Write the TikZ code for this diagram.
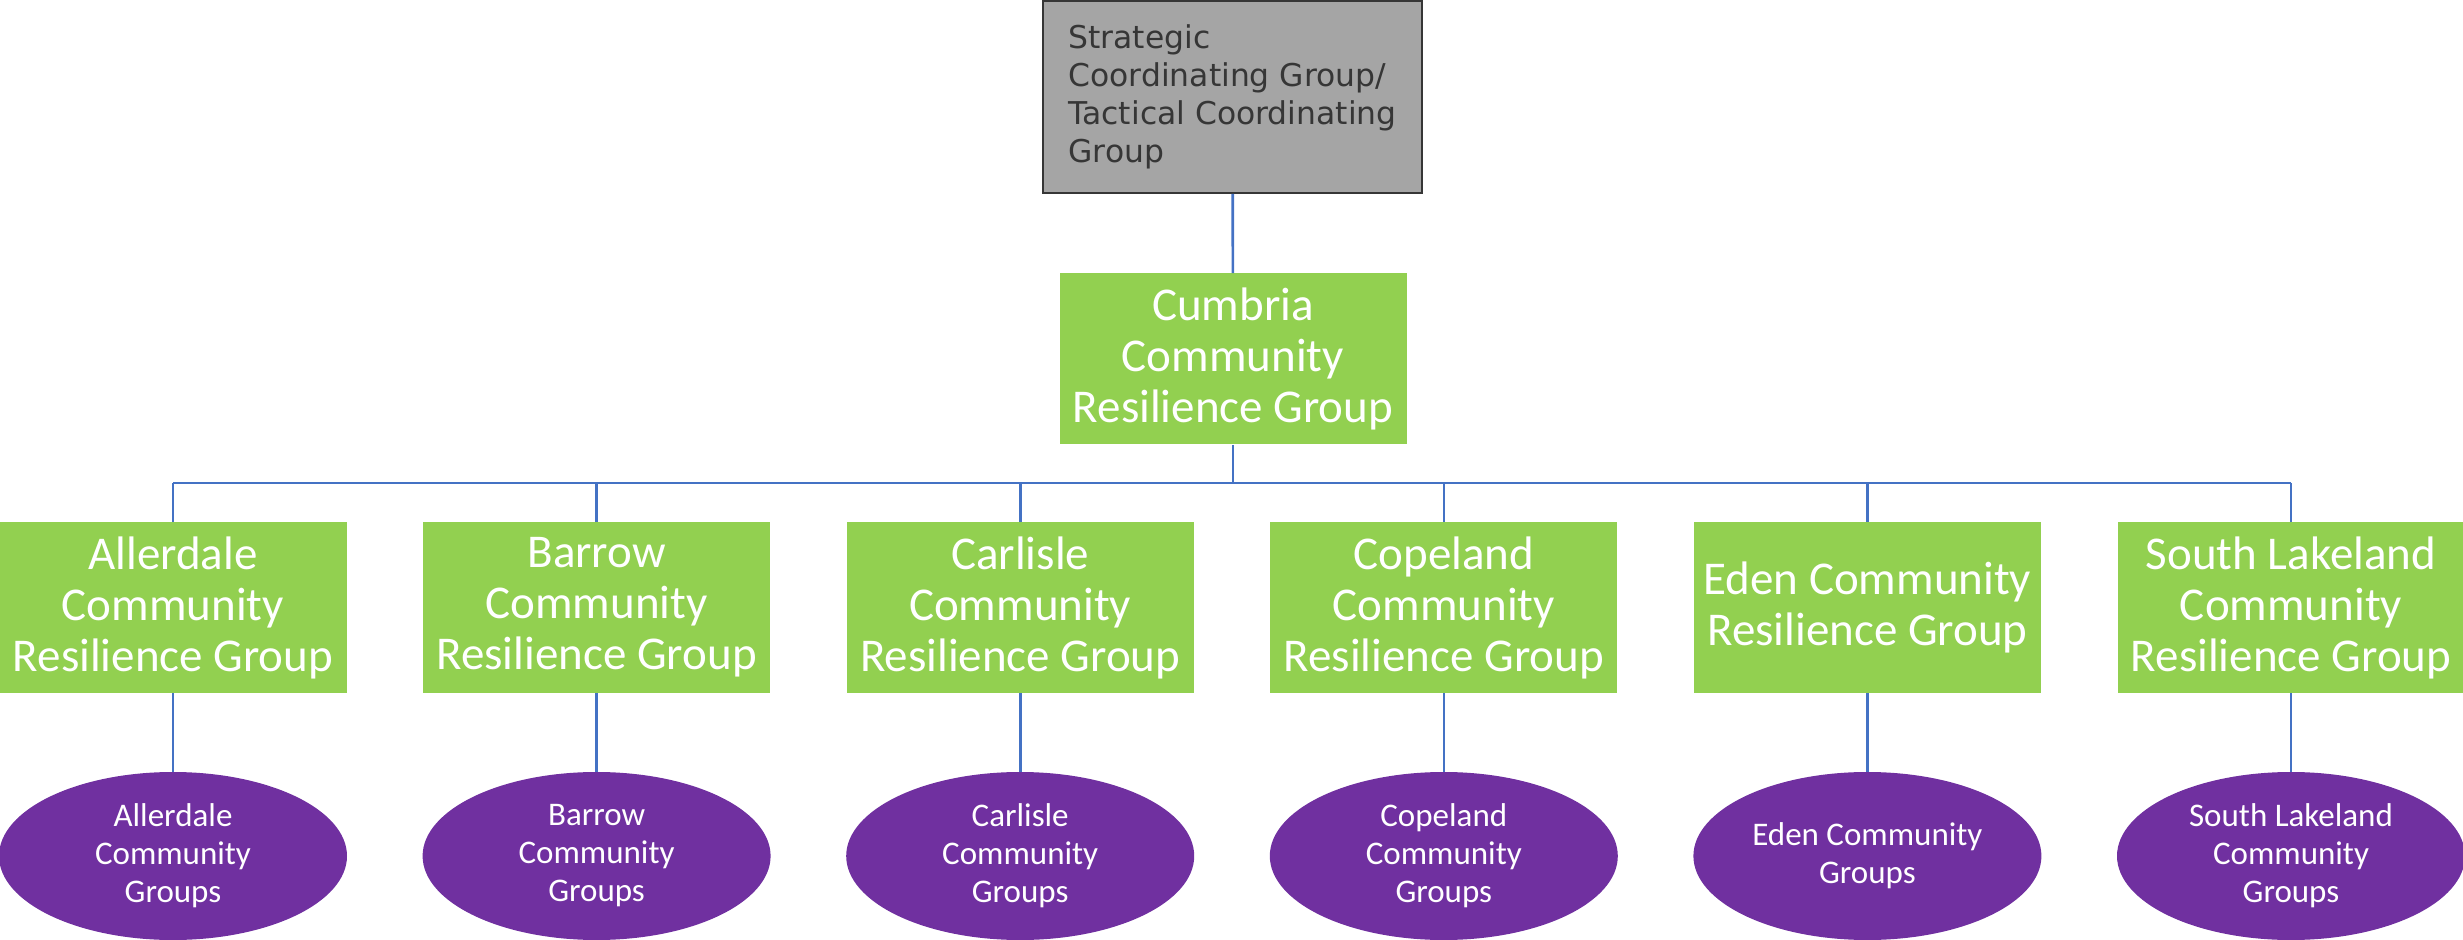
\documentclass[tikz,border=0pt]{standalone}
\usepackage{fontspec}
\setmainfont{Carlito}
\newfontfamily\sgfont{DejaVu Sans}
\usetikzlibrary{shapes.geometric}

\definecolor{crgreen}{HTML}{92D050}
\definecolor{cgpurple}{HTML}{7030A0}
\definecolor{linkblue}{HTML}{4472C4}
\definecolor{boxgrey}{HTML}{A5A5A5}
\definecolor{textgrey}{HTML}{363636}

\tikzset{
  crg/.style={rectangle, fill=crgreen, text=white, align=center,
    minimum width=173.5pt, minimum height=85.5pt, inner sep=0pt,
    font=\fontsize{23.5}{25.5}\selectfont},
  cg/.style={ellipse, fill=cgpurple, text=white, align=center,
    minimum width=174pt, minimum height=84pt, inner sep=0pt,
    font=\fontsize{16.5}{19}\selectfont},
  link/.style={draw=linkblue, line width=1.3pt}
}

\begin{document}
\begin{tikzpicture}[node distance=211.8pt]
      \useasboundingbox (0,0) rectangle (1231.5pt,-470pt);

      % top of the tree
      \node[rectangle, draw=textgrey, line width=0.8pt, fill=boxgrey, text=textgrey,
            align=left, minimum width=189.5pt, minimum height=96pt,
            font=\sgfont\fontsize{15.7}{19}\selectfont, name=scg]
            at (616.25pt,-48.5pt) {Strategic\\Coordinating Group/\\Tactical Coordinating\\Group};
      \node[crg, name=cumbria] at (616.5pt,-179.5pt) {Cumbria\\Community\\Resilience Group};

      % district groups
      \node[crg, name=allerdale] at (86.5pt,-303.75pt) {Allerdale\\Community\\Resilience Group};
      \node[crg, name=barrow, right of=allerdale] {Barrow\\Community\\Resilience Group};
      \node[crg, name=carlisle, right of=barrow] {Carlisle\\Community\\Resilience Group};
      \node[crg, name=copeland, right of=carlisle] {Copeland\\Community\\Resilience Group};
      \node[crg, name=eden, right of=copeland] {Eden Community\\Resilience Group};
      \node[crg, name=southlakeland, right of=eden] {South Lakeland\\Community\\Resilience Group};

      % community groups
      \begin{scope}[node distance=124.25pt]
      \node[cg, name=g-allerdale, below of=allerdale] {Allerdale\\Community\\Groups};
      \node[cg, name=g-barrow, below of=barrow] {Barrow\\Community\\Groups};
      \node[cg, name=g-carlisle, below of=carlisle] {Carlisle\\Community\\Groups};
      \node[cg, name=g-copeland, below of=copeland] {Copeland\\Community\\Groups};
      \node[cg, name=g-eden, below of=eden] {Eden Community\\Groups};
      \node[cg, name=g-southlakeland, below of=southlakeland] {South Lakeland\\Community\\Groups};
      \end{scope}

      \coordinate (bus) at (0,-241.5pt);

      \path[link]
         (scg) edge (cumbria);
      \draw[link] (cumbria.south) -- (cumbria.south |- bus);
      \draw[link] (allerdale.north |- bus) -- (southlakeland.north |- bus);
      \foreach \d in {allerdale,barrow,carlisle,copeland,eden,southlakeland}
         \draw[link] (\d.north |- bus) -- (\d.north) (\d) -- (g-\d);
   \end{tikzpicture}
\end{document}
